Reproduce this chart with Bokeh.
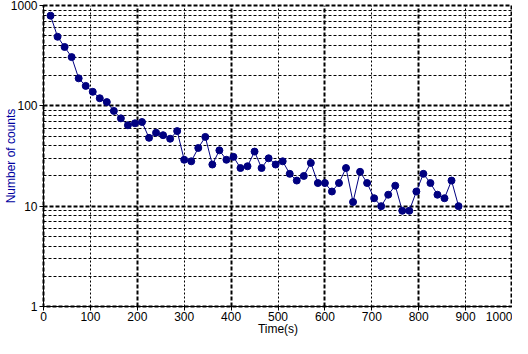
from bokeh.plotting import figure
from bokeh.models import Range1d, FixedTicker, PrintfTickFormatter, ColumnDataSource
from bokeh.embed import file_html
from bokeh.resources import INLINE

# ---- data ----
times = [15, 30, 45, 60, 75, 90, 105, 120, 135, 150,
         165, 180, 195, 210, 225, 240, 255, 270, 285, 300,
         315, 330, 345, 360, 375, 390, 405, 420, 435, 450,
         465, 480, 495, 510, 525, 540, 555, 570, 585, 600,
         615, 630, 645, 660, 675, 690, 705, 720, 735, 750,
         765, 780, 795, 810, 825, 840, 855, 870, 885]
counts = [792, 488, 386, 306, 188, 158, 138, 119, 109, 89,
          75, 64, 67, 69, 48, 54, 51, 47, 56, 29,
          28, 38, 49, 26, 36, 29, 31, 24, 25, 35,
          24, 30, 26, 28, 21, 18, 20, 27, 17, 17,
          14, 17, 24, 11, 22, 17, 12, 10, 13, 16,
          9, 9, 14, 21, 17, 13, 12, 18, 10]

x_ticks = [0, 100, 200, 300, 400, 500, 600, 700, 800, 900, 1000]
x_major_grid = [0, 200, 400, 600, 800, 1000]
x_minor_grid = [100, 300, 500, 700, 900]
y_ticks = [1, 10, 100, 1000]
y_minor_grid = [2, 3, 4, 5, 6, 7, 8, 9,
                20, 30, 40, 50, 60, 70, 80, 90,
                200, 300, 400, 500, 600, 700, 800, 900]

src = ColumnDataSource(dict(t=times, c=counts))

FONT = "Liberation Sans"

p = figure(width=512, height=338,
           x_range=Range1d(0, 1000), y_range=Range1d(1, 1000),
           y_axis_type="log",
           output_backend="svg", toolbar_location=None,
           min_border_left=37, min_border_right=0,
           min_border_top=5, min_border_bottom=30)
p.background_fill_color = "white"
p.border_fill_color = "white"
# frame outline drawn as the thick dashed border lines
p.outline_line_color = "black"
p.outline_line_width = 2
p.outline_line_dash = "4 2"

# grids
p.xgrid.ticker = FixedTicker(ticks=x_major_grid, minor_ticks=x_minor_grid)
p.ygrid.ticker = FixedTicker(ticks=y_ticks, minor_ticks=y_minor_grid)
for g in (p.xgrid, p.ygrid):
    g.grid_line_color = "black"
    g.grid_line_width = 2
    g.grid_line_dash = "4 2"
    g.grid_line_alpha = 1.0
    g.minor_grid_line_color = "black"
    g.minor_grid_line_width = 1
p.xgrid.minor_grid_line_dash = "2 2"
p.ygrid.minor_grid_line_dash = "3 2"

# axes
p.xaxis.ticker = FixedTicker(ticks=x_ticks)
p.yaxis.ticker = FixedTicker(ticks=y_ticks)
p.yaxis.formatter = PrintfTickFormatter(format="%d")
for ax in (p.xaxis, p.yaxis):
    ax.axis_line_color = "black"
    ax.axis_line_width = 1
    ax.major_tick_in = 0
    ax.major_tick_out = 4
    ax.major_tick_line_color = "black"
    ax.minor_tick_line_color = None
    ax.major_label_text_font = FONT
    ax.major_label_text_font_size = "12px"
    ax.major_label_text_color = "black"
    ax.axis_label_text_font = FONT
    ax.axis_label_text_font_size = "12px"
    ax.axis_label_text_font_style = "normal"

p.xaxis.major_label_standoff = 1
p.yaxis.major_label_standoff = 2
p.xaxis.axis_label = "Time(s)"
p.xaxis.axis_label_text_color = "black"
p.xaxis.axis_label_standoff = -2
p.yaxis.axis_label = "Number of counts"
p.yaxis.axis_label_text_color = "#0000a0"
p.yaxis.axis_label_standoff = -10

# data
p.line("t", "c", source=src, line_color="#000080", line_width=1)
p.scatter("t", "c", source=src, marker="circle", size=7,
          fill_color="#000080", line_color="#000080")

open("out.html", "w").write(file_html(p, INLINE))
